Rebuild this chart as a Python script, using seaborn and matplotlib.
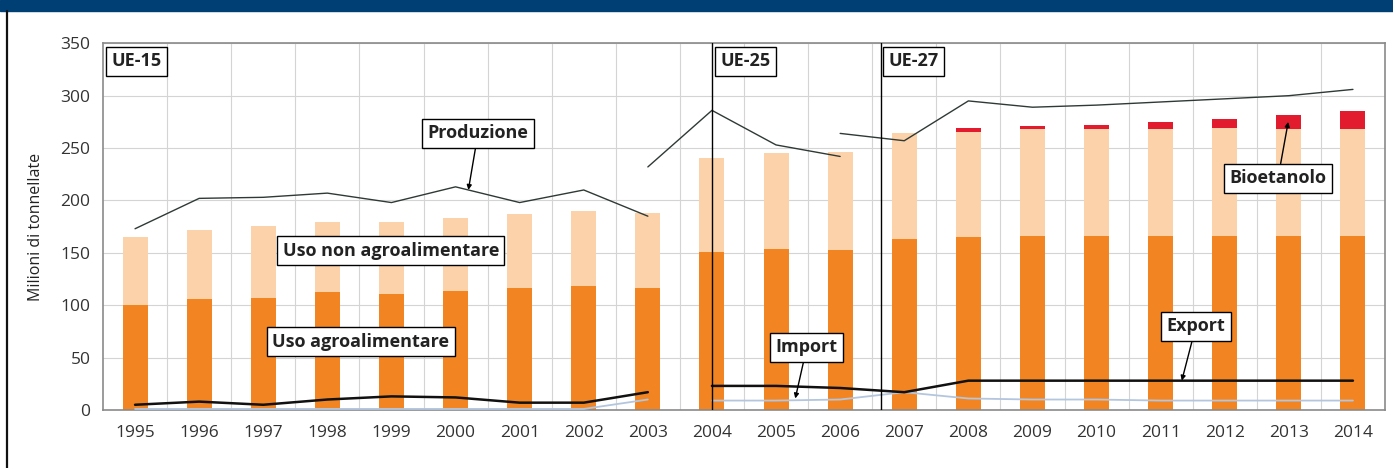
import numpy as np
import pandas as pd
import matplotlib
matplotlib.use("Agg")
import matplotlib.pyplot as plt
import seaborn as sns

# data (milioni di tonnellate)
years = [str(y) for y in range(1995, 2015)]
uso_agro = [100, 106, 107, 113, 111, 114, 116, 118, 116, 151,
            154, 153, 163, 165, 166, 166, 166, 166, 166, 166]
uso_non_agro = [65, 66, 69, 66, 68, 69, 71, 72, 72, 90,
                91, 93, 101, 100, 102, 102, 102, 103, 102, 102]
bioetanolo = [0, 0, 0, 0, 0, 0, 0, 0, 0, 0,
              0, 0, 0, 4.5, 3, 4, 6.5, 9, 13.5, 17]

# production line, three separate segments (UE-15, UE-25, UE-27)
prod_ue15_years = [1995, 1996, 1997, 1998, 1999, 2000, 2001, 2002, 2003]
prod_ue15 = [173, 202, 203, 207, 198, 213, 198, 210, 185]
prod_ue25_years = [2003, 2004, 2005, 2006]
prod_ue25 = [232, 286, 253, 242]
prod_ue27_years = [2006, 2007, 2008, 2009, 2010, 2011, 2012, 2013, 2014]
prod_ue27 = [264, 257, 295, 289, 291, 294, 297, 300, 306]

export_a_years = [1995, 1996, 1997, 1998, 1999, 2000, 2001, 2002, 2003]
export_a = [5, 8, 5, 10, 13, 12, 7, 7, 17]
export_b_years = list(range(2004, 2015))
export_b = [23, 23, 21, 17, 28, 28, 28, 28, 28, 28, 28]

import_a_years = [1995, 1996, 1997, 1998, 1999, 2000, 2001, 2002, 2003]
import_a = [1, 1, 1, 1, 1, 1, 1, 1, 10]
import_b_years = list(range(2004, 2015))
import_b = [9, 9, 10, 17, 11, 10, 10, 9, 9, 9, 9]

c_agro = "#f28522"
c_non = "#fbd2aa"
c_bio = "#e31b2e"

sns.set_style("white")
plt.rcParams["font.family"] = ["Open Sans", "DejaVu Sans"]

fig = plt.figure(figsize=(13.93, 4.68), dpi=100)
ax = fig.add_axes([103 / 1393, 58 / 468, 1282 / 1393, 366.7 / 468])

df = pd.DataFrame({"anno": years, "agro": uso_agro,
                   "non": uso_non_agro, "bio": bioetanolo})
df["tot_non"] = df["agro"] + df["non"]
df["tot_bio"] = df["tot_non"] + df["bio"]

# stacked bars: draw from the tallest layer down
sns.barplot(data=df, x="anno", y="tot_bio", color=c_bio, width=0.39,
            saturation=1, linewidth=0, ax=ax, zorder=2)
sns.barplot(data=df, x="anno", y="tot_non", color=c_non, width=0.39,
            saturation=1, linewidth=0, ax=ax, zorder=2)
sns.barplot(data=df, x="anno", y="agro", color=c_agro, width=0.39,
            saturation=1, linewidth=0, ax=ax, zorder=2)


def pos(yrs):
    return [y - 1995 for y in yrs]


for xs, ys in [(prod_ue15_years, prod_ue15), (prod_ue25_years, prod_ue25),
               (prod_ue27_years, prod_ue27)]:
    sns.lineplot(x=pos(xs), y=ys, color="#2f3a35", lw=1.0, sort=False,
                 estimator=None, ax=ax, zorder=4)
for xs, ys in [(import_a_years, import_a), (import_b_years, import_b)]:
    sns.lineplot(x=pos(xs), y=ys, color="#b3c6de", lw=1.3, sort=False,
                 estimator=None, ax=ax, zorder=4)
for xs, ys in [(export_a_years, export_a), (export_b_years, export_b)]:
    sns.lineplot(x=pos(xs), y=ys, color="#111111", lw=1.8, sort=False,
                 estimator=None, ax=ax, zorder=5)

ax.set_xlim(-0.5, 19.5)
ax.set_ylim(0, 350)
ax.set_yticks(np.arange(0, 351, 50))
ax.set_xticks(np.arange(0, 20) + 0.5, minor=True)
ax.grid(False)
ax.yaxis.grid(True, color="#d4d4d4", lw=0.8, zorder=0)
ax.xaxis.grid(True, which="minor", color="#d4d4d4", lw=0.8, zorder=0)
ax.set_axisbelow(True)
ax.tick_params(axis="both", which="both", length=0, labelsize=12.5,
               labelcolor="#333333")
ax.tick_params(axis="x", pad=11)
ax.tick_params(axis="y", pad=9)
ax.set_xlabel("")
ax.set_ylabel("Milioni di tonnellate", fontsize=11.5, color="#222222",
              labelpad=12)
for s in ax.spines.values():
    s.set_color("#8a8a8a")
    s.set_linewidth(1.2)

# enlargement markers
ax.axvline(9.0, color="black", lw=1.0, zorder=6)
ax.axvline(11.64, color="black", lw=1.0, zorder=6)

box = dict(boxstyle="square,pad=0.3", fc="white", ec="black", lw=1.0)
tk = dict(fontsize=13, fontweight="bold", color="#222222",
          ha="center", va="center", bbox=box, zorder=8)
ax.text(0.02, 333, "UE-15", **tk)
ax.text(9.53, 333, "UE-25", **tk)
ax.text(12.14, 333, "UE-27", **tk)
ax.text(3.99, 152, "Uso non agroalimentare", **tk)
ax.text(3.52, 65, "Uso agroalimentare", **tk)

arr = dict(arrowstyle="-|>", color="black", lw=1.0, mutation_scale=7,
           shrinkA=0, shrinkB=0)
ax.annotate("Produzione", xy=(5.2, 210), xytext=(5.35, 264),
            arrowprops=arr, **tk)
ax.annotate("Import", xy=(10.3, 11), xytext=(10.48, 60),
            arrowprops=arr, **tk)
ax.annotate("Export", xy=(16.33, 28), xytext=(16.55, 80),
            arrowprops=arr, **tk)
ax.annotate("Bioetanolo", xy=(17.99, 275), xytext=(17.83, 221),
            arrowprops=arr, **tk)

# page decoration: blue band on top, black rule at the left
fig.patches.append(plt.Rectangle((0, 1 - 10.5 / 468), 1, 10.5 / 468,
                                 transform=fig.transFigure, color="#003f73",
                                 zorder=0))
fig.lines.append(plt.Line2D([7 / 1393, 7 / 1393], [0, 1 - 10.5 / 468],
                            transform=fig.transFigure, color="#111111",
                            lw=1.6))

fig.savefig("out.png", dpi=100)
